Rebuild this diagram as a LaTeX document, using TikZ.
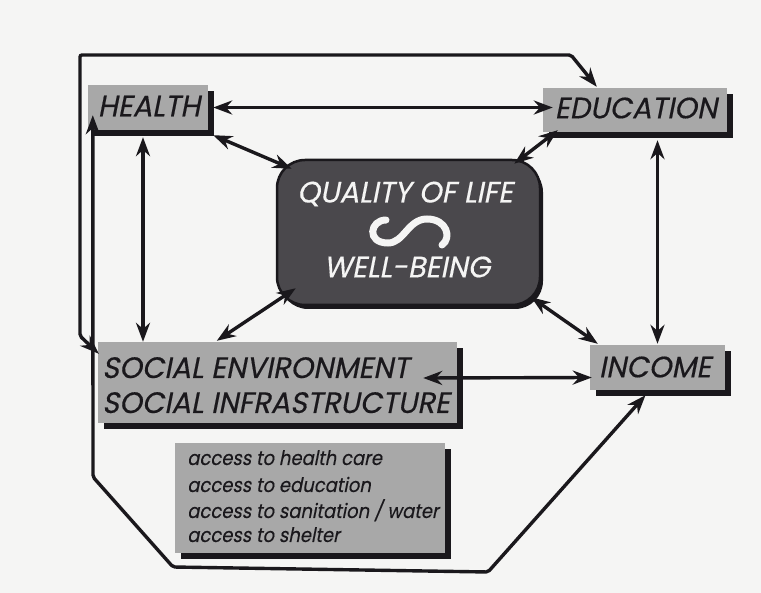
\documentclass[tikz,border=0pt]{standalone}
\usepackage{fontspec}
\usetikzlibrary{arrows.meta,calc,shadows}
\newfontfamily\fut[FakeSlant=0.2,FakeBold=0.35,FakeStretch=0.98]{Poppins}
\newfontfamily\futs[FakeSlant=0.2,FakeStretch=0.9,FakeBold=0.25]{Poppins}
\definecolor{paper}{RGB}{245,245,244}
\definecolor{boxgray}{RGB}{168,168,168}
\definecolor{qolgray}{RGB}{74,72,76}
\definecolor{ink}{RGB}{26,24,28}
\tikzset{
  gbox/.style={fill=boxgray, draw=none, inner sep=0pt,
    general shadow={fill=ink, shadow xshift=6pt, shadow yshift=-6pt}},
  captxt/.style={text=ink, inner sep=0pt, font=\fut\fontsize{29.5}{30}\selectfont},
  qtxt/.style={text=paper, inner sep=0pt, font=\fut\fontsize{29.5}{31}\selectfont},
  acctxt/.style={text=ink, inner sep=0pt, anchor=base west, font=\futs\fontsize{20}{22}\selectfont},
  arr/.style={draw=ink, line width=3.4pt,
    {Stealth[length=19pt,width=14pt]}-{Stealth[length=19pt,width=14pt]}},
}
\begin{document}
\begin{tikzpicture}[x=1pt,y=-1pt]
\fill[paper] (0,0) rectangle (761,593);
\useasboundingbox (0,0) rectangle (761,593);

% boxes
\node[gbox, minimum width=120pt, minimum height=45pt] (health) at (148,107.5) {};
\node[gbox, minimum width=184pt, minimum height=44pt] (edu) at (635,110) {};
\node[gbox, minimum width=359pt, minimum height=81pt] (social) at (277.5,382.5) {};
\node[gbox, minimum width=135pt, minimum height=45pt] (income) at (657.5,367.5) {};
\node[gbox, minimum width=270pt, minimum height=110pt] (access) at (310,498) {};
\node[fill=qolgray, draw=ink, line width=2.5pt, rounded corners=28pt,
      minimum width=263pt, minimum height=145pt, inner sep=0pt,
      general shadow={fill=ink, shadow xshift=3pt, shadow yshift=-4pt, rounded corners=28pt}]
      (qol) at (408.5,232.5) {};

% texts
\node[captxt] (thealth) at (149,106) {HEALTH};
\node[captxt] (tedu) at (636,108) {EDUCATION};
\node[captxt] (tincome) at (655,367) {INCOME};
\node[captxt, anchor=base west] (tsoc1) at (102,378) {SOCIAL ENVIRONMENT};
\node[captxt, anchor=base west] (tsoc2) at (102,413) {SOCIAL INFRASTRUCTURE};
\node[qtxt] (tq1) at (405,194) {QUALITY OF LIFE};
\node[qtxt] (tq2) at (407,267) {WELL-BEING};
\node[acctxt] (a1) at (187,465) {access to health care};
\node[acctxt] (a2) at (187,492) {access to education};
\node[acctxt] (a3) at (187,518) {access to sanitation / water};
\node[acctxt] (a4) at (187,542) {access to shelter};

% S symbol
\draw[paper, line width=7pt, line cap=round]
  (386,220) .. controls (370,220) and (366,243) .. (388,243)
  .. controls (404,243) and (408,219) .. (427,219)
  .. controls (447,219) and (452,238) .. (442,245);

% connectors
\coordinate (hs) at ($(health.south)+(-5,7)$);
\coordinate (ei) at ($(income.north |- edu.south)+(0,8)$);
\draw[arr] ($(health.east)+(5,0)$) -- ($(health.east -| edu.west)+(10,0)$);
\draw[arr] ($(health.south east)+(5,5)$) -- ($(qol.north west)+(16,10)$);
\draw[arr] ($(edu.south west)+(15,-2)$) -- ($(qol.north east)+(-27,5)$);
\draw[arr] (hs) -- (hs |- social.north);
\draw[arr] (ei) -- ($(income.north)+(0,-1)$);
\draw[arr] ($(qol.south west)+(20,-18)$) -- ($(social.north west)+(119,-1)$);
\draw[arr] ($(qol.south east)+(-10,-9)$) -- ($(income.north west)+(8,-1)$);
\draw[arr] ($(social.east)+(-34,-4.5)$) -- ($(income.west)+(2,10)$);

% loops
\coordinate (l1) at (80,336);
\coordinate (l2) at (80,55);
\coordinate (l3) at (571,55);
\draw[arr, rounded corners=2pt] ($(social.north west)+(1,12)$) -- (l1) -- (l2) -- (l3) -- ($(edu.north west)+(54,-1)$);
\coordinate (b1) at (93,477);
\coordinate (b2) at (173,567);
\coordinate (b3) at (488,572);
\draw[arr, rounded corners=2pt] ($(health.south west)+(5,-15)$) -- (b1) -- (b2) -- (b3) -- ($(income.south)+(-12,5)$);
\end{tikzpicture}
\end{document}
